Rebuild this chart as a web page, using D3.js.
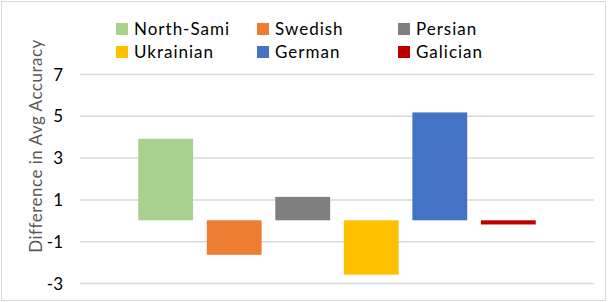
<!DOCTYPE html>
<html>
<head>
<meta charset="utf-8">
<script src="https://cdn.jsdelivr.net/npm/d3@7"></script>
<style>
body { margin: 0; background: #fff; }
svg text { font-family: Lato, "Open Sans", sans-serif; }
</style>
</head>
<body>
<svg id="chart" width="608" height="302"></svg>
<script>
var languages = ["North-Sami", "Swedish", "Persian", "Ukrainian", "German", "Galician"];
var diffs = [3.9, -1.65, 1.12, -2.6, 5.16, -0.2];
var colors = ["#A9D18E", "#ED7D31", "#7F7F7F", "#FFC000", "#4472C4", "#C00000"];
var yTicks = [-3, -1, 1, 3, 5, 7];

var svg = d3.select("svg#chart");
var margin = {top: 74, right: 14, bottom: 19, left: 80};
var width = 608 - margin.left - margin.right;
var height = 302 - margin.top - margin.bottom;

// outer frame
svg.append("rect")
	.attr("x", 1.5).attr("y", 1.5)
	.attr("width", 604).attr("height", 299)
	.style("fill", "none").style("stroke", "#D9D9D9").style("stroke-width", 1);

var g = svg.append("g")
	.attr("transform", "translate(" + margin.left + "," + margin.top + ")");

var x = d3.scaleBand().domain(languages).range([0, width]).paddingInner(0.2).paddingOuter(0.85);
var y = d3.scaleLinear().domain([-3, 7]).range([height, 0]);

var yAxis = d3.axisLeft(y).tickValues(yTicks).tickSize(-width).tickPadding(17)
	.tickFormat(function(d) { return String(d); });

var ax = g.append("g").call(yAxis);
ax.select(".domain").remove();
ax.selectAll(".tick line").style("stroke", "#D9D9D9").style("stroke-width", 1.5);
ax.selectAll("text").style("font-size", "17px").style("fill", "#000").attr("dy", "0.36em");

g.selectAll("rect.bar")
	.data(diffs)
	.enter()
	.append("rect")
	.attr("class", "bar")
	.attr("x", function(d, i) { return x(languages[i]); })
	.attr("width", x.bandwidth())
	.attr("y", function(d) { return y(Math.max(0, d)); })
	.attr("height", function(d) { return Math.abs(y(d) - y(0)); })
	.style("fill", function(d, i) { return colors[i]; });

// axis title
svg.append("text")
	.attr("transform", "translate(42,146) rotate(-90)")
	.attr("text-anchor", "middle")
	.style("font-size", "17px")
	.style("letter-spacing", "0.5px")
	.style("fill", "#595959")
	.text("Difference in Avg Accuracy");

// legend, 3 columns x 2 rows
var legend = svg.append("g").selectAll("g")
	.data(languages)
	.enter()
	.append("g")
	.attr("transform", function(d, i) {
		var col = i % 3;
		var row = Math.floor(i / 3);
		return "translate(" + (116 + col * 141) + "," + (23 + row * 23) + ")";
	});
legend.append("rect")
	.attr("width", 12).attr("height", 12)
	.style("fill", function(d, i) { return colors[i]; });
legend.append("text")
	.attr("x", 18).attr("y", 12)
	.style("font-size", "17px")
	.style("letter-spacing", "1px")
	.style("fill", "#000")
	.text(function(d) { return d; });
</script>
</body>
</html>
